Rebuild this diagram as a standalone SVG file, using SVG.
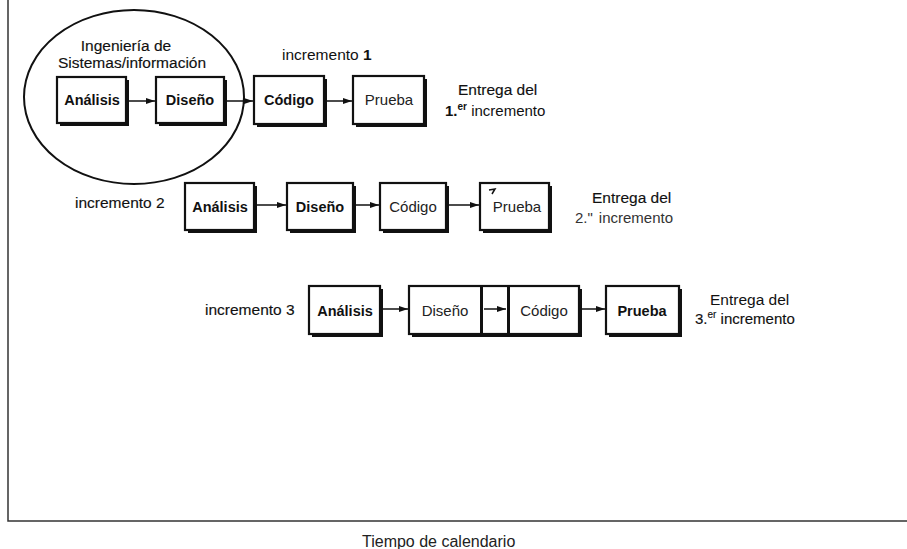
<svg xmlns="http://www.w3.org/2000/svg" width="907" height="549" viewBox="0 0 907 549">
<defs>
<marker id="ah" markerWidth="10" markerHeight="8" refX="9" refY="4" orient="auto" markerUnits="userSpaceOnUse">
<path d="M0,1 L9,4 L0,7 Z" fill="#111"/>
</marker>
<style>
text{font-family:"Liberation Sans",Arial,sans-serif;fill:#111}
.bl{font-size:14.5px;font-weight:bold;text-anchor:middle}
.rl{font-size:15px;text-anchor:middle;fill:#222}
.lab{font-size:15px}
.med{stroke:#111;stroke-width:0.15px}
.sh{fill:#111}
.bx{fill:#fff;stroke:#111;stroke-width:2.2}
.con line{stroke:#111;stroke-width:1.5;marker-end:url(#ah)}
.ax{stroke:#333;stroke-width:1.5;fill:none}
.sup{font-size:10px}
</style>
</defs>
<rect width="907" height="549" fill="#fff"/>
<!-- axes -->
<path class="ax" d="M8,0 V521 H907"/>
<text x="362" y="547" style="font-size:16px;fill:#222">Tiempo de calendario</text>

<!-- ellipse -->
<g id="sistemas">
<ellipse cx="134" cy="97" rx="110" ry="87" fill="none" stroke="#111" stroke-width="2"/>
<text class="lab med" x="126" y="51" text-anchor="middle" style="font-size:15.5px">Ingeniería de</text>
<text class="lab med" x="132" y="68" text-anchor="middle" style="font-size:15.5px">Sistemas/información</text>
</g>

<!-- row 1 -->
<text class="lab" x="282" y="60" style="font-size:15.5px">incremento <tspan font-weight="bold">1</tspan></text>
<g id="r1-analisis"><rect class="sh" x="60" y="80" width="69" height="46"/><rect class="bx" x="57" y="77" width="69" height="46"/><text class="bl" x="92" y="105">Análisis</text></g>
<g id="r1-diseno"><rect class="sh" x="159" y="80" width="68" height="46"/><rect class="bx" x="156" y="77" width="68" height="46"/><text class="bl" x="190" y="105">Diseño</text></g>
<g id="r1-codigo"><rect class="sh" x="257" y="79" width="70" height="48"/><rect class="bx" x="254" y="76" width="70" height="48"/><text class="bl" x="289" y="105">Código</text></g>
<g id="r1-prueba"><rect class="sh" x="356" y="79" width="71" height="48"/><rect class="bx" x="353" y="76" width="71" height="48"/><text class="rl" x="389" y="105">Prueba</text></g>
<g id="r1-entrega">
<text class="lab med" x="458" y="95" style="font-size:15.5px">Entrega del</text>
<text class="lab" x="445" y="116" style="font-size:15px"><tspan font-weight="bold">1.</tspan><tspan class="sup" font-weight="bold" dy="-6">er</tspan><tspan dy="6"> incremento</tspan></text>
</g>

<!-- row 2 -->
<text class="lab med" x="75" y="208" style="font-size:15.5px">incremento 2</text>
<g id="r2-analisis"><rect class="sh" x="188" y="186" width="69" height="47"/><rect class="bx" x="185" y="183" width="69" height="47"/><text class="bl" x="220" y="212">Análisis</text></g>
<g id="r2-diseno"><rect class="sh" x="290" y="186" width="66" height="47"/><rect class="bx" x="287" y="183" width="66" height="47"/><text class="bl" x="320" y="212">Diseño</text></g>
<g id="r2-codigo"><rect class="sh" x="383" y="186" width="66" height="47"/><rect class="bx" x="380" y="183" width="66" height="47"/><text class="rl" x="413" y="212">Código</text></g>
<g id="r2-prueba"><rect class="sh" x="483" y="186" width="69" height="47"/><rect class="bx" x="480" y="183" width="69" height="47"/><path d="M489,190 L495,189 L492,194" fill="none" stroke="#111" stroke-width="1.5"/><text class="rl" x="517" y="212">Prueba</text></g>
<g id="r2-entrega">
<text class="lab med" x="592" y="203" style="font-size:15.5px">Entrega del</text>
<text class="lab" x="575" y="223" style="font-size:15px;fill:#333">2."<tspan dx="6">incremento</tspan></text>
</g>

<!-- row 3 -->
<text class="lab med" x="205" y="315" style="font-size:15.5px">incremento 3</text>
<g id="r3-analisis"><rect class="sh" x="312" y="289" width="71" height="48"/><rect class="bx" x="309" y="286" width="71" height="48"/><text class="bl" x="345" y="316">Análisis</text></g>
<g id="r3-diseno-codigo">
<rect class="sh" x="412" y="289" width="170" height="48"/>
<rect class="bx" x="409" y="286" width="170" height="48"/>
<rect class="sh" x="480" y="286" width="3" height="48"/>
<rect class="sh" x="507" y="286" width="3" height="48"/>
<text class="rl" x="445" y="316">Diseño</text>
<text class="rl" x="544" y="316">Código</text>
</g>
<g id="r3-prueba"><rect class="sh" x="609" y="289" width="73" height="48"/><rect class="bx" x="606" y="286" width="73" height="48"/><text class="bl" x="642" y="316">Prueba</text></g>
<g id="r3-entrega">
<text class="lab" x="710" y="305" style="font-size:15.5px">Entrega del</text>
<text class="lab med" x="695" y="324" style="font-size:15px">3.<tspan class="sup" dy="-6">er</tspan><tspan dy="6"> incremento</tspan></text>
</g>

<!-- connectors -->
<g id="connectors" class="con">
<line x1="129" y1="101" x2="155" y2="101"/>
<line x1="227" y1="101" x2="253" y2="101"/>
<line x1="327" y1="101" x2="352" y2="101"/>
<line x1="257" y1="205" x2="286" y2="205"/>
<line x1="356" y1="205" x2="379" y2="205"/>
<line x1="449" y1="205" x2="479" y2="205"/>
<line x1="383" y1="309" x2="408" y2="309"/>
<line x1="484" y1="309" x2="506" y2="309"/>
<line x1="582" y1="309" x2="605" y2="309"/>
</g>
</svg>
